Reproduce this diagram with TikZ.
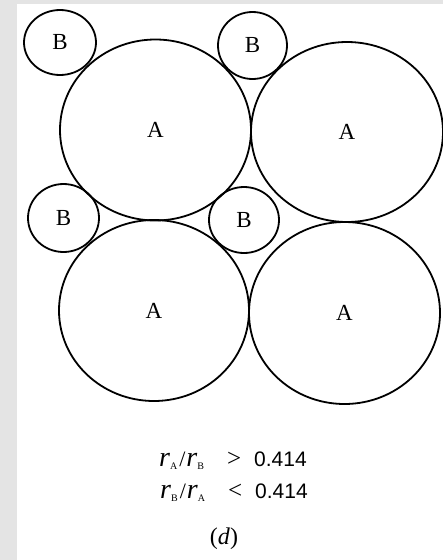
\documentclass[tikz,border=0pt]{standalone}
\usepackage{fontspec}
\setmainfont{Liberation Serif}
\newfontfamily\numfont{Liberation Sans}
\usetikzlibrary{shapes.geometric}
\definecolor{bggray}{HTML}{E4E4E4}
\newcommand{\sbs}[1]{\raisebox{-3pt}{\fontsize{10}{11}\selectfont #1}}
\newcommand{\rr}{{\fontsize{28}{30}\selectfont\itshape r}}
\newcommand{\ratio}[3]{\makebox[95pt][l]{\makebox[68pt][l]{\rr\sbs{#1}\hspace{2pt}{\fontsize{22}{24}\selectfont/}\hspace{1pt}\rr\sbs{#2}}{\fontsize{25}{28}\selectfont #3}}{\numfont 0.414}}
\tikzset{
  ring/.style={draw=black, line width=1.8pt, ellipse, inner sep=0pt, font=\fontsize{23}{25}\selectfont},
  captext/.style={inner sep=0pt, anchor=base west, font=\fontsize{21}{24}\selectfont}
}
\begin{document}
\begin{tikzpicture}[x=1pt,y=-1pt]
\fill[bggray] (0,0) rectangle (443,560);
\fill[white] (17,4) rectangle (443,560);
\useasboundingbox (0,0) rectangle (443,560);
\node[ring, minimum width=191pt, minimum height=181pt] (a1) at (155.5,130) {A};
\node[ring, minimum width=192pt, minimum height=180pt] (a2) at (347,132) {A};
\node[ring, minimum width=190pt, minimum height=181pt] (a3) at (154,310.5) {A};
\node[ring, minimum width=191pt, minimum height=182pt] (a4) at (344.5,313) {A};
\node[ring, minimum width=72pt, minimum height=65pt] (b1) at (60,42.5) {B};
\node[ring, minimum width=69pt, minimum height=67pt] (b2) at (252.5,45.5) {B};
\node[ring, minimum width=71pt, minimum height=68pt] (b3) at (63.5,218) {B};
\node[ring, minimum width=70pt, minimum height=66pt] (b4) at (244,220) {B};
\node[captext] (t1) at (159,466) {\ratio{A}{B}{>}};
\node[captext] (t2) at (160,498) {\ratio{B}{A}{<}};
\node[inner sep=0pt, font=\fontsize{24}{26}\selectfont] (d) at (224,539) {(\textit{d})};
\end{tikzpicture}
\end{document}
